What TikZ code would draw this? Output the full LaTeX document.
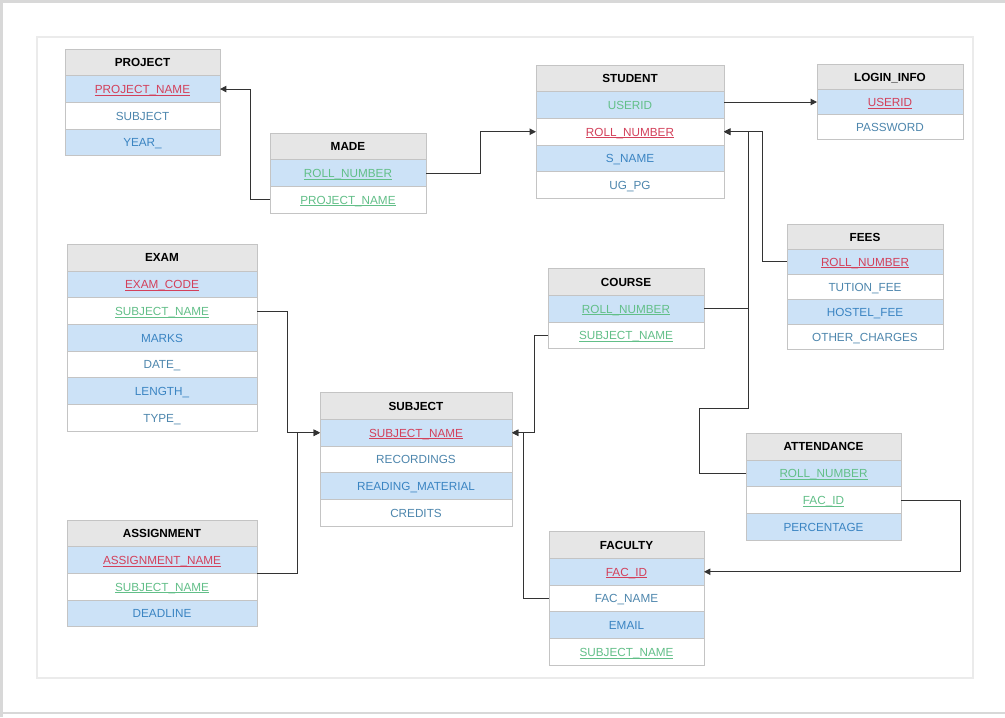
\documentclass[tikz,border=0pt]{standalone}
\usepackage{fontspec}
\setmainfont{Liberation Sans}
\usetikzlibrary{arrows.meta}
\definecolor{hdrgray}{HTML}{E6E6E6}
\definecolor{rowblue}{HTML}{CCE2F7}
\definecolor{cellline}{HTML}{C4C4C4}
\definecolor{pkred}{HTML}{D3405A}
\definecolor{fkgreen}{HTML}{62BF88}
\definecolor{atblue}{HTML}{3A84C2}
\definecolor{atgray}{HTML}{4D86AD}
\definecolor{connc}{HTML}{333333}
\definecolor{framec}{HTML}{EBEBEB}
\definecolor{outerc}{HTML}{D8D8D8}
\newcommand\ulx[1]{\leavevmode\setbox0=\hbox{#1}\rlap{\rule[-1.4pt]{\wd0}{0.45pt}}\box0}
\newcommand\pkey[1]{\textcolor{pkred}{\ulx{#1}}}
\newcommand\fkey[1]{\textcolor{fkgreen}{\ulx{#1}}}
\newcommand\fkeyn[1]{\textcolor{fkgreen}{#1}}
\newcommand\attr[1]{\textcolor{atblue}{#1}}
\newcommand\attrg[1]{\textcolor{atgray}{#1}}
\tikzset{
  cell/.style={anchor=north west, draw=cellline, line width=0.6pt, inner sep=0pt, outer sep=0pt,
    font=\fontsize{8.8}{10}\selectfont, text height=6.6pt, text depth=0pt},
  hdr/.style={cell, fill=hdrgray, font=\fontsize{8.8}{10}\selectfont\bfseries, text height=6.5pt, text depth=0pt},
  conn/.style={draw=connc, line width=0.75pt, -{Triangle[length=4.8pt,width=4.8pt]}},
}
\newcommand\etable[7]{%
  \node[hdr,minimum width=#4*0.75pt,minimum height=#5*0.75pt] (#1) at (#2,#3) {#6};
  \foreach \kk/\tx [count=\i] in {#7}{%
    \ifodd\i\relax\def\fc{rowblue}\else\def\fc{white}\fi
    \node[cell,fill=\fc,minimum width=#4*0.75pt,minimum height=#5*0.75pt] (#1-\kk) at (#2,{#3+\i*#5}) {\tx};
  }%
}
\begin{document}
\begin{tikzpicture}[x=0.75pt,y=-0.75pt]
\useasboundingbox (0,0) rectangle (1005,717);
\fill[white] (0,0) rectangle (1005,717);
\draw[outerc, line width=2pt] (1.5,717) -- (1.5,1.5) -- (1005,1.5);
\draw[outerc, line width=1.6pt] (0,713) -- (1005,713);
\draw[framec, line width=0.8pt] (37,37) rectangle (973,678);

\etable{project}{65}{49}{155}{26.7}{PROJECT}{pname/\pkey{PROJECT\_NAME}, subj/\attrg{SUBJECT}, year/\attr{YEAR\_}}
\etable{made}{270}{133}{156}{26.7}{MADE}{roll/\fkey{ROLL\_NUMBER}, pname/\fkey{PROJECT\_NAME}}
\etable{student}{536}{65}{188}{26.7}{STUDENT}{uid/\fkeyn{USERID}, roll/\pkey{ROLL\_NUMBER}, sname/\attr{S\_NAME}, ugpg/\attrg{UG\_PG}}
\etable{login}{817}{64.5}{146}{25}{LOGIN\_INFO}{uid/\pkey{USERID}, pass/\attrg{PASSWORD}}
\etable{fees}{787}{224.3}{156}{25}{FEES}{roll/\pkey{ROLL\_NUMBER}, tution/\attrg{TUTION\_FEE}, hostel/\attr{HOSTEL\_FEE}, other/\attrg{OTHER\_CHARGES}}
\etable{course}{548}{268.7}{156}{26.7}{COURSE}{roll/\fkey{ROLL\_NUMBER}, subj/\fkey{SUBJECT\_NAME}}
\etable{exam}{67}{244.3}{190}{26.7}{EXAM}{code/\pkey{EXAM\_CODE}, subj/\fkey{SUBJECT\_NAME}, marks/\attr{MARKS}, date/\attrg{DATE\_}, len/\attr{LENGTH\_}, type/\attrg{TYPE\_}}
\etable{subject}{320}{392.7}{192}{26.7}{SUBJECT}{sname/\pkey{SUBJECT\_NAME}, rec/\attrg{RECORDINGS}, read/\attr{READING\_MATERIAL}, cred/\attrg{CREDITS}}
\etable{asg}{67}{520}{190}{26.7}{ASSIGNMENT}{aname/\pkey{ASSIGNMENT\_NAME}, subj/\fkey{SUBJECT\_NAME}, dead/\attr{DEADLINE}}
\etable{att}{746}{433.3}{155}{26.7}{ATTENDANCE}{roll/\fkey{ROLL\_NUMBER}, fac/\fkey{FAC\_ID}, perc/\attr{PERCENTAGE}}
\etable{fac}{549}{531.7}{155}{26.7}{FACULTY}{fid/\pkey{FAC\_ID}, fname/\attrg{FAC\_NAME}, email/\attr{EMAIL}, subj/\fkey{SUBJECT\_NAME}}

\draw[conn] (made-pname.west) -- ++(-20,0) |- (project-pname.east);
\draw[conn] (made-roll.east) -- ++(54,0) |- (student-roll.west);
\draw[conn] (student-uid.east |- login-uid.west) -- (login-uid.west);
\draw[conn] (fees-roll.west) -- ++(-25,0) |- (student-roll.east);
\draw[conn] (course-roll.east) -- ++(44,0) |- (student-roll.east);
\draw[conn] (att-roll.west) -- ++(-47,0) |- (748,408) |- (student-roll.east);
\draw[conn] (course-subj.west) -- ++(-14,0) |- (subject-sname.east);
\draw[conn] (fac-fname.west) -- ++(-26,0) |- (subject-sname.east);
\draw[conn] (att-fac.east) -- ++(59,0) |- (fac-fid.east);
\draw[conn] (exam-subj.east) -- ++(30,0) |- (subject-sname.west);
\draw[conn] (asg-aname.south east) -- ++(40,0) |- (subject-sname.west);
\end{tikzpicture}
\end{document}
